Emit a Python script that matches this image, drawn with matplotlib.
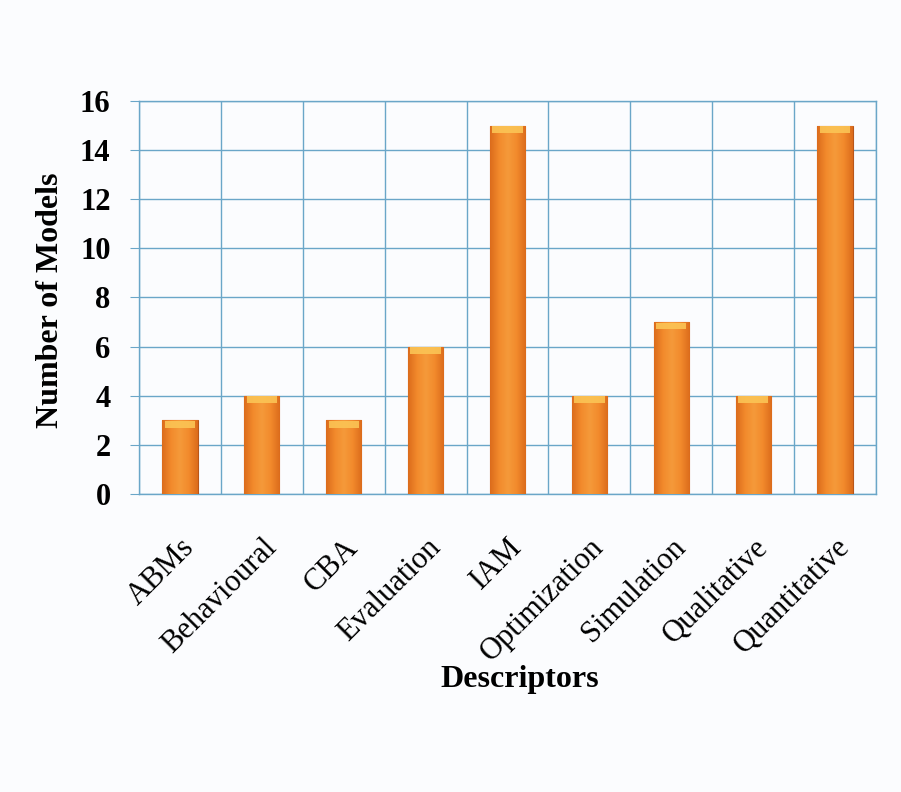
import numpy as np
import matplotlib
matplotlib.use("Agg")
import matplotlib.pyplot as plt
import matplotlib.transforms as mtransforms
from matplotlib.colors import LinearSegmentedColormap

descriptors = ["ABMs", "Behavioural", "CBA", "Evaluation", "IAM",
               "Optimization", "Simulation", "Qualitative", "Quantitative"]
n_models = [3, 4, 3, 6, 15, 4, 7, 4, 15]
y_ticks = [0, 2, 4, 6, 8, 10, 12, 14, 16]

plt.rcParams['font.family'] = ['Liberation Serif', 'DejaVu Serif']

bg = '#fbfcfe'
grid_col = '#6aa6c8'

fig = plt.figure(figsize=(9.01, 7.92), dpi=100, facecolor=bg)
ax = fig.add_axes([0.1543, 0.3763, 0.818, 0.4962])
ax.set_facecolor(bg)

x = np.arange(len(descriptors))
w = 0.43

# horizontal gradient for the bars (darker edges, lighter middle)
grad_cmap = LinearSegmentedColormap.from_list(
    'bar', ['#dc6c1c', '#f28a2c', '#f59a3a', '#f28a2c', '#dc6c1c'])
grad = np.linspace(0, 1, 64).reshape(1, -1)

bars = ax.bar(x, n_models, width=w, color='#f08a2c', edgecolor='#b8561a',
              linewidth=0.8, zorder=3)
for b in bars:
    x0, y0 = b.get_x(), b.get_y()
    im = ax.imshow(grad, cmap=grad_cmap, aspect='auto',
                   extent=(x0, x0 + b.get_width(), y0, y0 + b.get_height()),
                   zorder=3.5)
    im.set_clip_path(b)
    # light cap at top of each bar
    ax.fill_between([x0 + 0.03, x0 + b.get_width() - 0.03],
                    b.get_height() - 0.3, b.get_height() - 0.02,
                    color='#fbc455', alpha=0.9, lw=0, zorder=4)

ax.set_xlim(-0.5, len(descriptors) - 0.5)
ax.set_ylim(0, 16)
ax.set_yticks(y_ticks)
ax.set_yticklabels([str(t) for t in y_ticks], fontsize=22, fontweight='bold')

# vertical grid at category boundaries
ax.set_xticks(x)
ax.set_xticks(np.arange(-0.5, len(descriptors), 1), minor=True)
ax.grid(True, axis='y', which='major', color=grid_col, lw=1.0, zorder=0)
ax.grid(True, axis='x', which='minor', color=grid_col, lw=1.0, zorder=0)
ax.tick_params(axis='x', which='both', length=0, pad=4)
ax.tick_params(axis='y', which='major', length=6.5, color=grid_col, pad=14)
ax.set_xticklabels(descriptors, rotation=45, ha='right',
                   rotation_mode='anchor', fontsize=22)
shift = mtransforms.ScaledTranslation(0, -24 / 72, fig.dpi_scale_trans)
for lbl in ax.get_xticklabels():
    lbl.set_transform(lbl.get_transform() + shift)

for s in ax.spines.values():
    s.set_color(grid_col)
    s.set_linewidth(1.0)

ax.set_ylabel("Number of Models", fontsize=23, fontweight='bold')
ax.set_xlabel("Descriptors", fontsize=23, fontweight='bold')
ax.yaxis.set_label_coords(-0.100, 0.494)
ax.xaxis.set_label_coords(0.517, -0.435)

fig.savefig("out.png", dpi=100, facecolor=bg)
